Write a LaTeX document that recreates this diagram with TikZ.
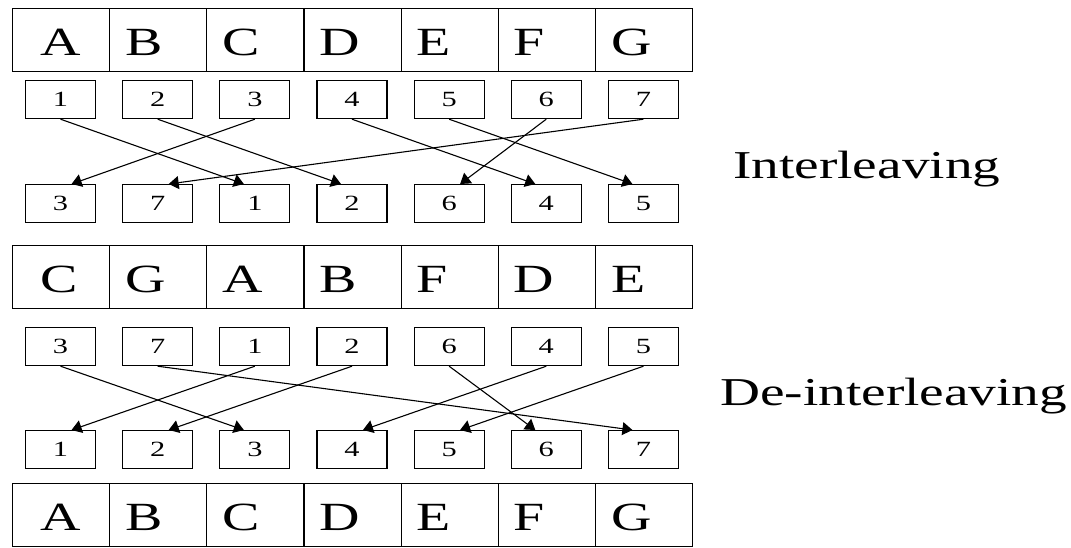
\documentclass[tikz,border=0pt]{standalone}
\usepackage{fontspec}
\setmainfont{Liberation Serif}[FakeStretch=1.4]
\usetikzlibrary{arrows.meta, calc}

\tikzset{
    cell/.style={draw, line width=1.2pt, minimum width=97.14pt, minimum height=63pt,
        inner sep=0pt, anchor=north west},
    letter/.style={inner sep=0pt, anchor=west, font=\fontsize{40}{48}\selectfont},
    numbox/.style={draw, line width=1.2pt, minimum width=70pt, minimum height=38pt,
        inner sep=0pt, anchor=north, font=\fontsize{21.7}{26}\selectfont},
    link/.style={line width=1.1pt, -{Triangle[length=10pt,width=13pt]}},
    caption/.style={inner sep=0pt, anchor=base west, font=\fontsize{39.5}{47}\selectfont}
}

\begin{document}
\begin{tikzpicture}[x=1pt, y=-1pt]
\useasboundingbox (0,0) rectangle (1071,547);

% --- Datenblock vor dem Interleaver ---
\foreach \l [count=\i] in {A,B,C,D,E,F,G} {
    \node[cell] (src\i) at ({12+97.14*(\i-1)}, 8) {};
    \pgfmathsetmacro\pad{\i==1 ? 28 : 16}
    \node[letter] (srct\i) at ([xshift=\pad pt, yshift=-2pt]src\i.west) {\l};
}
\foreach \v [count=\i] in {1,...,7}
    \node[numbox] (srcn\i) at ({12+97.14*(\i-0.5)}, 80) {\v};

% --- umsortierte Reihenfolge ---
\foreach \v [count=\i] in {3,7,1,2,6,4,5}
    \node[numbox] (ilvn\i) at ({12+97.14*(\i-0.5)}, 184) {\v};

% Pfeile: Position -> neue Position
\foreach \i/\j in {1/3,2/4,3/1,4/6,5/7,6/5,7/2} {
    \pgfmathsetmacro\off{11*sign(\i-\j)}
    \draw[link] (srcn\i.south) -- ([xshift=\off pt]ilvn\j.north);
}

\node[caption] (lblI) at (733,178) {Interleaving};

% --- uebertragener Block ---
\foreach \l [count=\i] in {C,G,A,B,F,D,E} {
    \node[cell] (ilv\i) at ({12+97.14*(\i-1)}, 245) {};
    \pgfmathsetmacro\pad{\i==1 ? 28 : 16}
    \node[letter] (ilvt\i) at ([xshift=\pad pt, yshift=-2pt]ilv\i.west) {\l};
}
\foreach \v [count=\i] in {3,7,1,2,6,4,5}
    \node[numbox] (rxn\i) at ({12+97.14*(\i-0.5)}, 327) {\v};

% --- Rueckordnung ---
\foreach \v [count=\i] in {1,...,7}
    \node[numbox] (outn\i) at ({12+97.14*(\i-0.5)}, 430) {\v};

\foreach \i/\j in {1/3,2/7,3/1,4/2,5/6,6/4,7/5} {
    \pgfmathsetmacro\off{11*sign(\i-\j)}
    \draw[link] (rxn\i.south) -- ([xshift=\off pt]outn\j.north);
}

\node[caption] (lblD) at (720,405) {De-interleaving};

\foreach \l [count=\i] in {A,B,C,D,E,F,G} {
    \node[cell] (out\i) at ({12+97.14*(\i-1)}, 483) {};
    \pgfmathsetmacro\pad{\i==1 ? 28 : 16}
    \node[letter] (outt\i) at ([xshift=\pad pt, yshift=-2pt]out\i.west) {\l};
}

\end{tikzpicture}
\end{document}
